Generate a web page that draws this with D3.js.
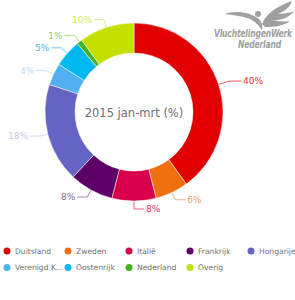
<!DOCTYPE html>
<html><head><meta charset="utf-8">
<script src="https://cdn.jsdelivr.net/npm/d3@7"></script>
<style>body{margin:0;background:#fff}svg{display:block}</style>
</head><body>
<script>
const categories = ["Duitsland","Zweden","Italië","Frankrijk","Hongarije","Verenigd Koninkrijk","Oostenrijk","Nederland","Overig"];
const values = [40, 6, 8, 8, 18, 4, 5, 1, 10];
const colors = ["#e00000","#f07010","#d8004a","#5c0068","#6464c4","#50b0f0","#00b8f0","#46b41e","#c4e000"];
const labelColors = ["#e83030","#f0a060","#e0306a","#9060a0","#c8c8ec","#b8dcf4","#40c0ee","#90d060","#d4e860"];
const legendLabels = ["Duitsland","Zweden","Italië","Frankrijk","Hongarije","Verenigd K...","Oostenrijk","Nederland","Overig"];
const title = "2015 jan-mrt (%)";

const W = 295, H = 300, cx = 134, cy = 112, rO = 89, rI = 59;
const svg = d3.select("body").append("svg").attr("width", W).attr("height", H);

const pie = d3.pie().sort(null).value(d => d)(values);
const arc = d3.arc().innerRadius(rI).outerRadius(rO);
const g = svg.append("g").attr("transform", `translate(${cx},${cy})`);
g.selectAll("path.s").data(pie).join("path").attr("class","s")
  .attr("d", arc).attr("fill", (d,i) => colors[i]).attr("stroke","#fff").attr("stroke-width",0.5);

// labels with leader lines
pie.forEach((d, i) => {
  const a = (d.startAngle + d.endAngle) / 2;
  const p1 = [Math.sin(a) * (rO + 0.5), -Math.cos(a) * (rO + 0.5)];
  const r2 = i === 0 ? 100 : 97;
  const p2 = [Math.sin(a) * r2, -Math.cos(a) * r2];
  const right = Math.sin(a) > -0.01;
  const dir = right ? 1 : -1;
  const hl = i === 0 ? 12 : 10;
  const p3 = [p2[0] + dir * hl, p2[1]];
  g.append("path").attr("d", d3.line()([p1, p2, p3]))
    .attr("fill","none").attr("stroke", labelColors[i]).attr("stroke-width", 0.8);
  g.append("text").attr("x", p3[0] + dir * 2).attr("y", p3[1])
    .attr("dy","0.35em").attr("text-anchor", right ? "start" : "end")
    .attr("font-family","DejaVu Sans, Verdana, sans-serif").attr("font-size", 9)
    .attr("fill", labelColors[i]).text(values[i] + "%");
});

// center title
svg.append("text").attr("x", cx).attr("y", cy + 5).attr("text-anchor","middle")
  .attr("font-family","DejaVu Sans, Verdana, sans-serif").attr("font-size", 11.5)
  .attr("fill","#707070").text(title);

// legend
const leg = svg.append("g");
legendLabels.forEach((t, i) => {
  const col = i % 5, row = Math.floor(i / 5);
  const x = 7 + col * 61, y = 251 + row * 16.5;
  leg.append("circle").attr("cx", x).attr("cy", y).attr("r", 3.5).attr("fill", colors[i]);
  leg.append("text").attr("x", x + 8).attr("y", y).attr("dy","0.35em")
    .attr("font-family","DejaVu Sans, Verdana, sans-serif").attr("font-size", 7.6)
    .attr("fill","#707070").text(t);
});

// logo
const logo = svg.append("g").attr("fill","#a0a0a0");
logo.append("path").attr("d","M224,14 C236,10 250,12 259,19 C262,22 263,26 262,30 C259,26 256,22 250,19 C242,16 232,15 224,14 Z");
logo.append("path").attr("d","M262,24 C266,14 275,7 292,1 C290,7 285,11 278,14 C285,13 290,13 294,11 C290,17 282,20 272,21 C280,21 286,22 290,21 C284,26 274,27 265,27 Z");
logo.append("circle").attr("cx",258).attr("cy",14).attr("r",3);
logo.append("text").attr("transform","translate(292,37) scale(1,1.25)")
  .attr("text-anchor","end")
  .attr("font-family","Liberation Sans Narrow, DejaVu Sans Condensed, sans-serif")
  .attr("font-weight","bold").attr("font-style","italic").attr("font-size",8.5)
  .attr("letter-spacing",-0.2).text("VluchtelingenWerk");
logo.append("text").attr("transform","translate(281,48) scale(1,1.25)")
  .attr("text-anchor","end")
  .attr("font-family","Liberation Sans Narrow, DejaVu Sans Condensed, sans-serif")
  .attr("font-weight","bold").attr("font-style","italic").attr("font-size",8.5)
  .attr("letter-spacing",-0.2).text("Nederland");
</script>
</body></html>
